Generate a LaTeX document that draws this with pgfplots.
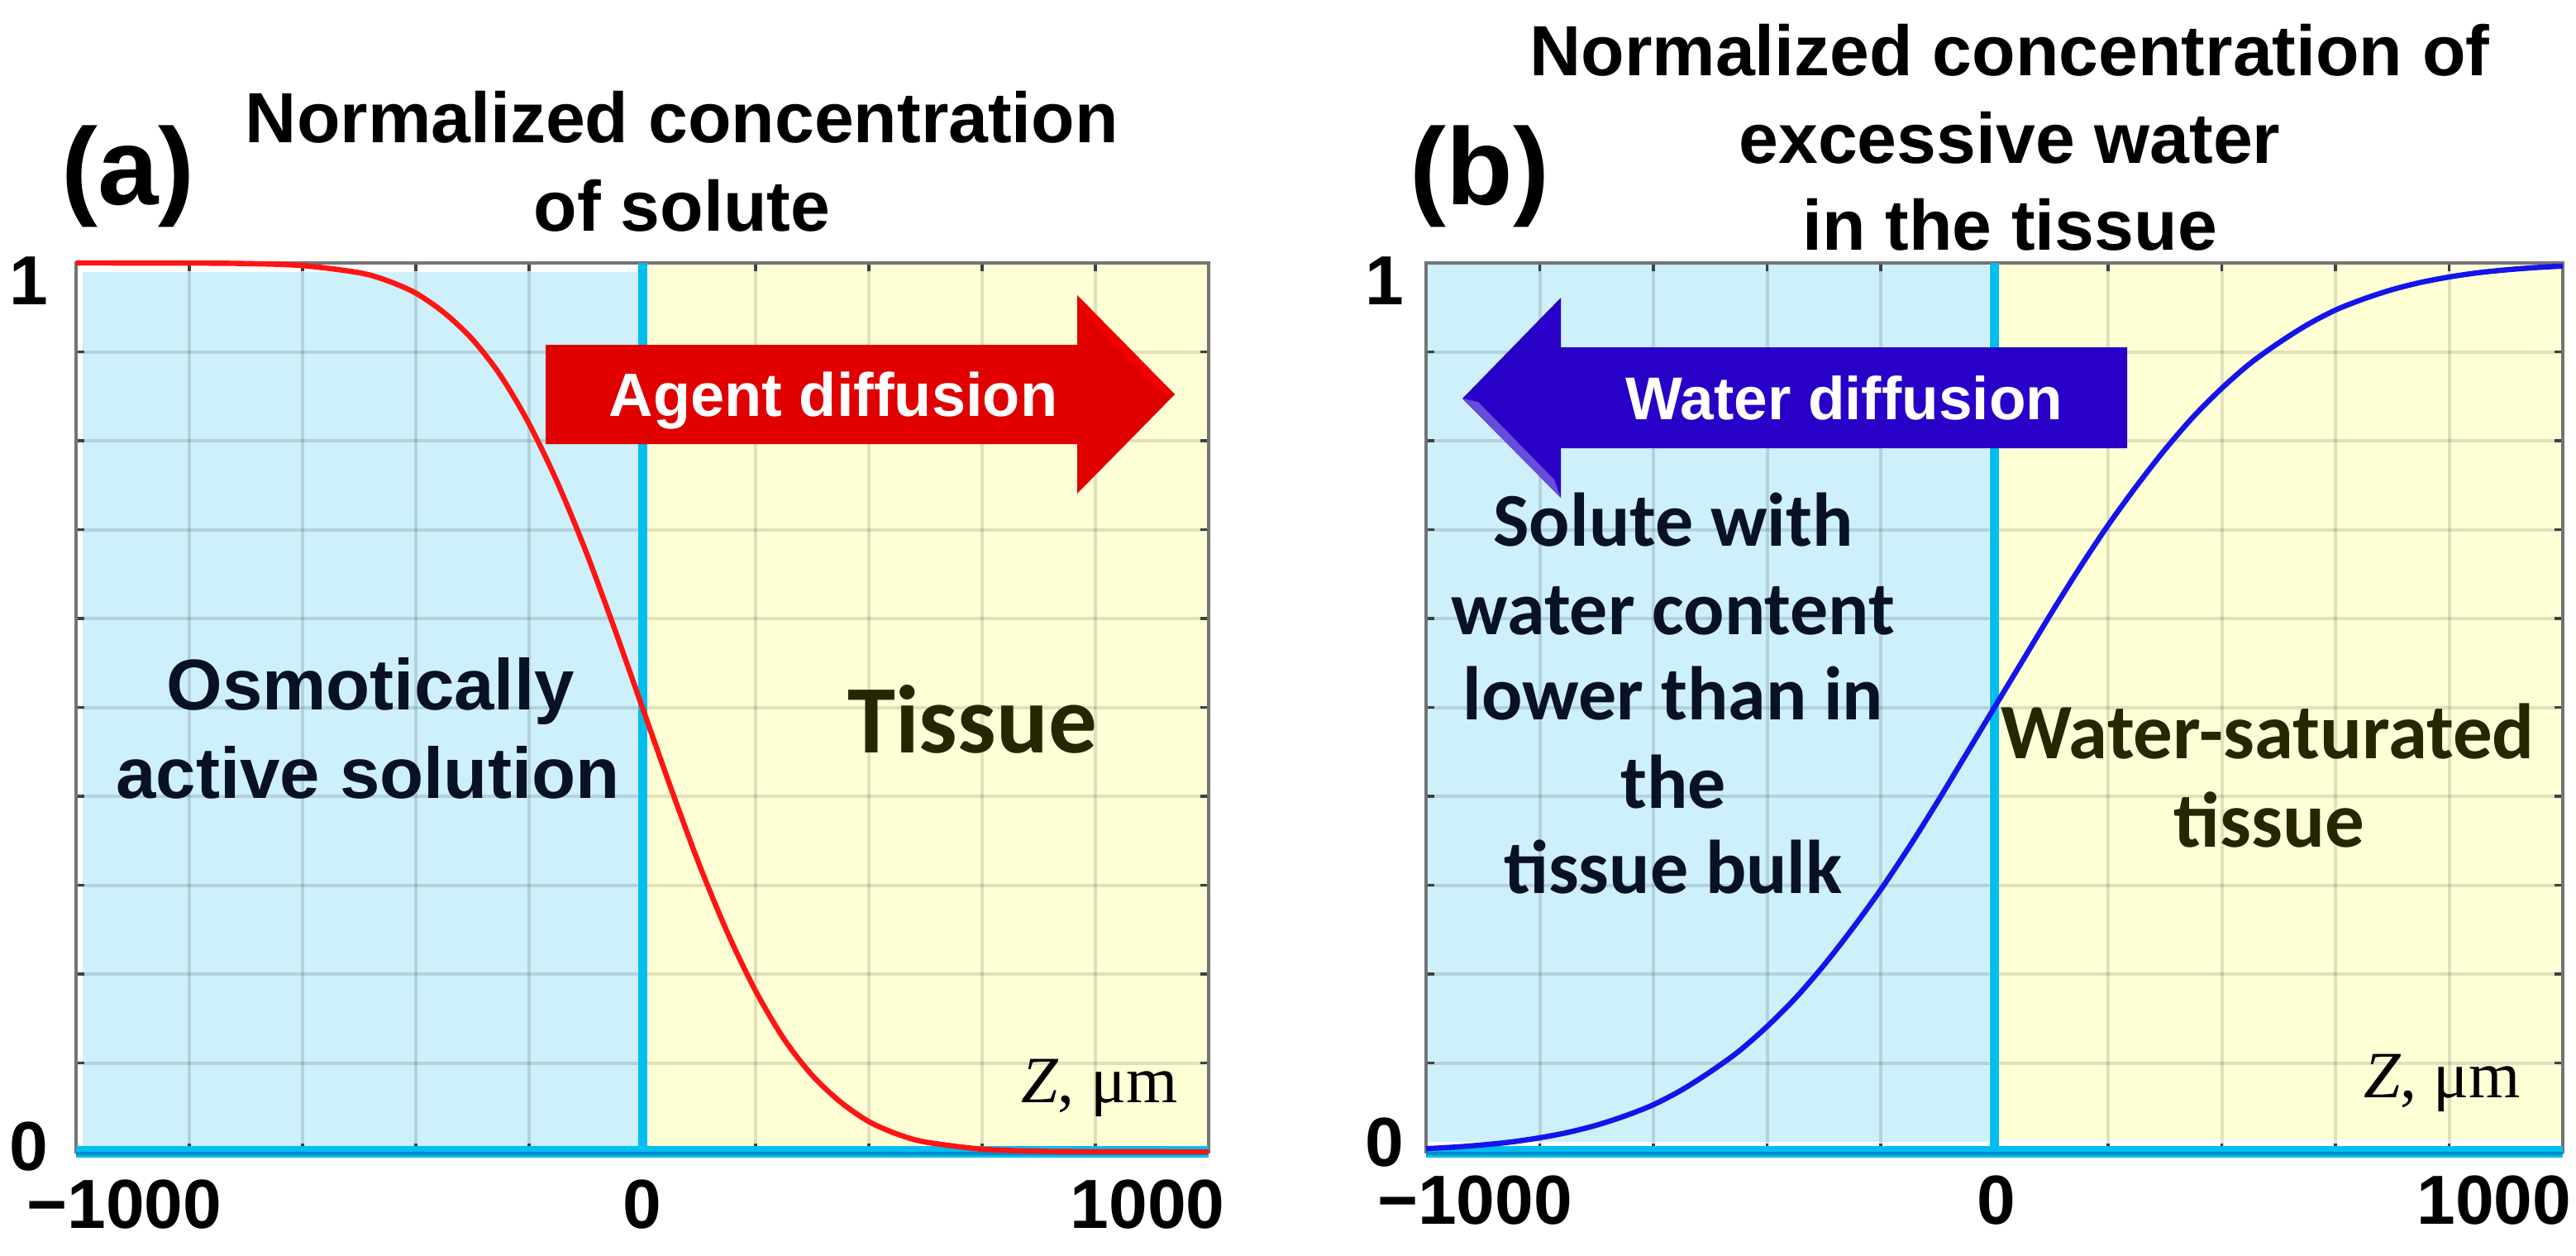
\documentclass[border=0pt]{standalone}
\usepackage{fontspec}
\setmainfont{Liberation Sans}
\newfontfamily\calib{Carlito}
\newfontfamily\timesf{Liberation Serif}
\usepackage{pgfplots}
\pgfplotsset{compat=1.18}
\definecolor{bgblue}{RGB}{205,240,250}
\definecolor{bgyellow}{RGB}{255,255,214}
\definecolor{zcyan}{RGB}{0,190,240}
\definecolor{zcyandark}{RGB}{0,140,200}
\definecolor{agentred}{RGB}{224,0,0}
\definecolor{waterblue}{RGB}{40,0,200}
\definecolor{navy}{RGB}{8,18,36}
\definecolor{olivetext}{RGB}{38,38,0}
\definecolor{curvered}{RGB}{255,20,20}
\definecolor{curveblue}{RGB}{20,20,235}

\pgfplotstableread{
x y
-1000 1.000
-800 0.9998
-700 0.9993
-600 0.997
-500 0.989
-450 0.980
-400 0.966
-350 0.944
-300 0.914
-250 0.873
-200 0.819
-150 0.753
-100 0.676
-50 0.590
0 0.500
50 0.410
100 0.324
150 0.247
200 0.181
250 0.127
300 0.086
350 0.056
400 0.034
450 0.020
500 0.011
600 0.003
700 0.0007
800 0.0002
1000 0.0
}\solute

\pgfplotstableread{
x y
-1000 0.0035
-950 0.0053
-900 0.0078
-850 0.0111
-800 0.0158
-750 0.0219
-700 0.030
-650 0.0404
-600 0.053
-550 0.0697
-500 0.090
-450 0.113
-400 0.141
-350 0.173
-300 0.210
-250 0.251
-200 0.295
-150 0.343
-100 0.394
-50 0.447
0 0.500
50 0.553
100 0.606
150 0.657
200 0.705
250 0.749
300 0.790
350 0.827
400 0.859
450 0.887
500 0.910
550 0.9303
600 0.947
650 0.9596
700 0.970
750 0.9781
800 0.9842
850 0.9889
900 0.9922
950 0.9947
1000 0.9965
}\water

\pgfplotsset{
  panel/.style={
    set layers,
    scale only axis,
    height=268.75pt,
    anchor=south west,
    xmin=-1000, xmax=1000, ymin=0, ymax=1,
    xtick={-1000,-800,...,1000},
    ytick={0,0.1,...,1},
    xticklabels={}, yticklabels={},
    grid=major,
    major grid style={line width=1pt, black, opacity=0.12},
    tick align=inside,
    major tick length=2.6pt,
    tick style={line width=0.9pt, black!75},
    axis line style={line width=0.9pt, black!55},
    xticklabel style={font=\fontsize{21pt}{21pt}\selectfont\bfseries, anchor=center, inner sep=0pt},
    yticklabel style={font=\fontsize{21pt}{21pt}\selectfont\bfseries, anchor=center, inner sep=0pt},
    extra x tick style={grid=none, major tick length=0pt, tick style={draw=none}},
    extra y tick style={grid=none, major tick length=0pt, tick style={draw=none}},
    clip=false,
  }
}

\begin{document}
\begin{tikzpicture}

% ---------- panel (a) ----------
\begin{axis}[panel, width=342.5pt, at={(23pt,-348.25pt)},
  extra x ticks={-915,0,892}, extra x tick labels={−1000,0,1000},
  extra y ticks={0.0056,0.9795}, extra y tick labels={0,1},
  xticklabel style={yshift=-16pt},
  yticklabel style={xshift=-14.25pt}]
\addplot[fill=bgblue, draw=none, on layer=axis background] coordinates {(-988,0) (0,0) (0,0.99) (-988,0.99)} -- cycle;
\addplot[fill=bgyellow, draw=none, on layer=axis background] coordinates {(0,0) (1000,0) (1000,1) (0,1)} -- cycle;
\addplot[zcyan, line width=2.75pt] coordinates {(0,0) (0,1)};
\addplot[zcyan, line width=3.6pt] coordinates {(-1000,0) (1000,0)};
\addplot[zcyandark, line width=1.1pt] coordinates {(-1000,-0.002) (1000,-0.002)};
\addplot[curvered, line width=1.6pt, smooth] table[x=x,y=y] {\solute};
\end{axis}

% ---------- panel (b) ----------
\begin{axis}[panel, width=343.75pt, at={(431.25pt,-348.25pt)},
  extra x ticks={-914,4,879}, extra x tick labels={−1000,0,1000},
  extra y ticks={0.011,0.9795}, extra y tick labels={0,1},
  xticklabel style={yshift=-14.6pt},
  yticklabel style={xshift=-12.6pt}]
\addplot[fill=bgblue, draw=none, on layer=axis background] coordinates {(-1000,0.011) (-10,0.011) (-10,1) (-1000,1)} -- cycle;
\addplot[fill=bgyellow, draw=none, on layer=axis background] coordinates {(0,0.014) (1000,0.014) (1000,1) (0,1)} -- cycle;
\addplot[zcyan, line width=2.75pt] coordinates {(0,0) (0,1)};
\addplot[zcyan, line width=3.6pt] coordinates {(-1000,0) (1000,0)};
\addplot[zcyandark, line width=1.1pt] coordinates {(-1000,-0.002) (1000,-0.002)};
\addplot[curveblue, line width=1.6pt, smooth] table[x=x,y=y] {\water};
\end{axis}

% ---------- arrows ----------
\fill[agentred] (165pt,-104.25pt) -- (325.75pt,-104.25pt) -- (325.75pt,-89.25pt)
  -- (355.25pt,-119.25pt) -- (325.75pt,-149.25pt) -- (325.75pt,-134.25pt)
  -- (165pt,-134.25pt) -- cycle;
\fill[red!55!agentred] (325.75pt,-89.25pt) -- (355.25pt,-119.25pt) -- (352pt,-119.25pt) -- (328pt,-95pt) -- cycle;
\fill[waterblue] (442.25pt,-120.5pt) -- (472pt,-90pt) -- (472pt,-105pt)
  -- (643.25pt,-105pt) -- (643.25pt,-135.5pt) -- (472pt,-135.5pt)
  -- (472pt,-150.5pt) -- cycle;
\fill[waterblue!70!white] (442.25pt,-120.5pt) -- (472pt,-150.5pt) -- (470pt,-145pt) -- (447pt,-121.5pt) -- cycle;
\node[anchor=base, text=white, font=\fontsize{18.5pt}{20pt}\selectfont\bfseries]
  at (252pt,-125.75pt) {Agent diffusion};
\node[anchor=base, text=white, font=\fontsize{18.25pt}{20pt}\selectfont\bfseries]
  at (557.75pt,-126.75pt) {Water diffusion};

% ---------- panel letters ----------
\node[anchor=base, font=\fontsize{33pt}{36pt}\selectfont\bfseries] at (38.75pt,-62pt) {(a)};
\node[anchor=base, font=\fontsize{33pt}{36pt}\selectfont\bfseries] at (447.5pt,-62pt) {(b)};

% ---------- titles ----------
\node[anchor=base, font=\fontsize{21.5pt}{24pt}\selectfont\bfseries] at (206.25pt,-43.25pt) {Normalized concentration};
\node[anchor=base, font=\fontsize{21.5pt}{24pt}\selectfont\bfseries] at (206.25pt,-70pt) {of solute};
\node[anchor=base, font=\fontsize{21.5pt}{24pt}\selectfont\bfseries] at (607.75pt,-23pt) {Normalized concentration of};
\node[anchor=base, font=\fontsize{21.5pt}{24pt}\selectfont\bfseries] at (607.75pt,-49.5pt) {excessive water};
\node[anchor=base, font=\fontsize{21.5pt}{24pt}\selectfont\bfseries] at (607.75pt,-75.5pt) {in the tissue};

% ---------- region labels (a) ----------
\node[anchor=base, text=navy, font=\fontsize{21.75pt}{24pt}\selectfont\bfseries] at (112pt,-214.5pt) {Osmotically};
\node[anchor=base, text=navy, font=\fontsize{21.75pt}{24pt}\selectfont\bfseries] at (111.25pt,-241.25pt) {active solution};
\node[anchor=base, text=olivetext, font=\calib\fontsize{29.25pt}{32pt}\selectfont\bfseries] at (294pt,-227.5pt) {Tissue};

% ---------- region labels (b) ----------
\node[anchor=base, text=navy, font=\calib\fontsize{23pt}{25pt}\selectfont\bfseries] at (506pt,-165pt) {Solute with};
\node[anchor=base, text=navy, font=\calib\fontsize{23pt}{25pt}\selectfont\bfseries] at (506pt,-191.75pt) {water content};
\node[anchor=base, text=navy, font=\calib\fontsize{23pt}{25pt}\selectfont\bfseries] at (506pt,-217.5pt) {lower than in};
\node[anchor=base, text=navy, font=\calib\fontsize{23pt}{25pt}\selectfont\bfseries] at (506pt,-244.25pt) {the};
\node[anchor=base, text=navy, font=\calib\fontsize{23pt}{25pt}\selectfont\bfseries] at (506pt,-270pt) {tissue bulk};
\node[anchor=base, text=olivetext, font=\calib\fontsize{23.75pt}{26pt}\selectfont\bfseries] at (685.75pt,-229.25pt) {Water-saturated};
\node[anchor=base, text=olivetext, font=\calib\fontsize{23.75pt}{26pt}\selectfont\bfseries] at (686.25pt,-256pt) {tissue};

% ---------- axis unit labels ----------
\node[anchor=base, font=\timesf\fontsize{20pt}{22pt}\selectfont] at (332.5pt,-333.25pt) {{\itshape Z}, μm};
\node[anchor=base, font=\timesf\fontsize{20pt}{22pt}\selectfont] at (738.5pt,-331.75pt) {{\itshape Z}, μm};

\pgfresetboundingbox
\useasboundingbox (0,0) rectangle (779pt,-379.75pt);
\end{tikzpicture}
\end{document}
